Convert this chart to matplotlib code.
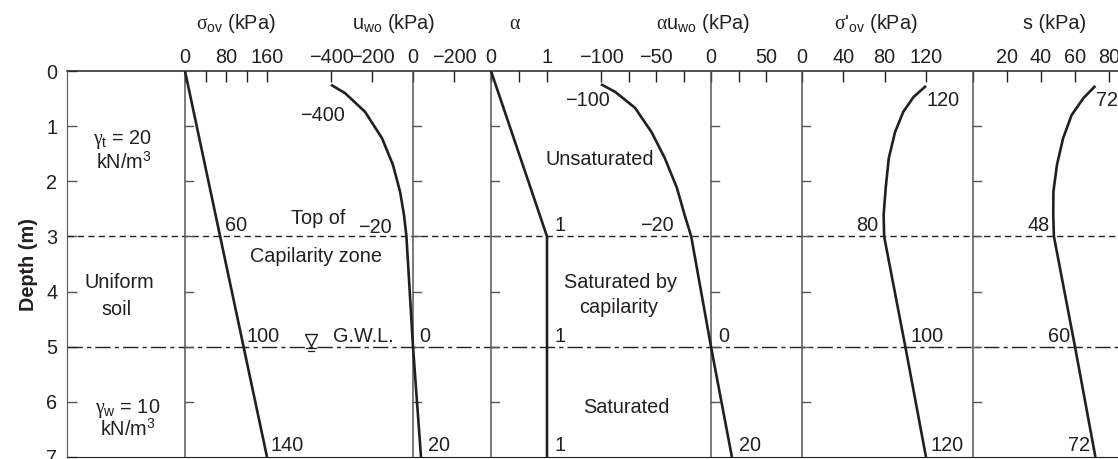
import matplotlib
matplotlib.use("Agg")
import matplotlib.pyplot as plt

# ---------------------------------------------------------------------------
# values (depth in m)
# ---------------------------------------------------------------------------
depth_sigma = [0.0, 7.0]
sigma_ov = [0, 160]

depth_u = [0.25, 0.40, 0.74, 1.22, 1.70, 2.19, 2.61, 3.0, 5.0, 7.0]
u_wo = [-400, -332, -234, -151, -98, -63, -44, -32, 0, 39]

depth_alpha = [0.0, 3.0, 7.0]
alpha = [0, 1, 1]

depth_au = [0.24, 0.38, 0.67, 1.11, 1.58, 2.12, 2.61, 3.0, 5.0, 7.0]
alpha_u = [-100, -87, -69, -54, -42, -31, -24, -18, 0, 19]

depth_eff = [0.27, 0.47, 0.74, 1.11, 1.58, 2.12, 2.61, 3.0, 5.0, 7.0]
sigma_eff = [120, 108, 98, 90, 84, 81, 79, 79.5, 100, 120]

depth_s = [0.27, 0.49, 0.80, 1.22, 1.70, 2.19, 2.61, 3.0, 5.0, 7.0]
suction = [72, 65, 58, 53, 49.4, 47.3, 47.2, 47.6, 60, 72]

depth_ticks = [0, 1, 2, 3, 4, 5, 6, 7]
top_of_capillarity = 3.0
gwl_depth = 5.0

# top tick values / labels per panel (the u_wo "−200" right of 0 is as printed)
sigma_ticks, sigma_labels = [0, 40, 80, 120, 160], ["0", "", "80", "", "160"]
u_ticks, u_labels = [-400, -200, 0, 200], ["\u2212400", "\u2212200", "0", "\u2212200"]
alpha_ticks, alpha_labels = [0, 0.5, 1], ["0", "", "1"]
au_ticks = [-100, -75, -50, -25, 0, 25, 50]
au_labels = ["\u2212100", "", "\u221250", "", "0", "", "50"]
eff_ticks, eff_labels = [0, 40, 80, 120], ["0", "40", "80", "120"]
s_ticks, s_labels = [0, 20, 40, 60, 80], ["", "20", "40", "60", "80"]

# ---------------------------------------------------------------------------
plt.rcParams["font.family"] = ["Liberation Sans", "DejaVu Sans"]
plt.rcParams["mathtext.fontset"] = "custom"
plt.rcParams["mathtext.rm"] = "Liberation Sans"
plt.rcParams["mathtext.it"] = "Liberation Serif"
plt.rcParams["mathtext.bf"] = "Liberation Sans:bold"

W, H = 1118, 459
INK = "#231f20"
GREY = "#555555"
FS = 14.3

fig = plt.figure(figsize=(W / 100, H / 100), dpi=100)
X0, X1, YTOP, YBOT = 67, 1118, 71, 457
ax = fig.add_axes([X0 / W, 1 - YBOT / H, (X1 - X0) / W, (YBOT - YTOP) / H])
ax.set_xlim(X0, X1)
ax.set_ylim(7, 0)
for side in ("top", "right"):
    ax.spines[side].set_visible(False)
ax.spines["left"].set_color(GREY)
ax.spines["bottom"].set_color(INK)
ax.set_xticks([])
ax.set_yticks(depth_ticks)
ax.tick_params(axis="y", direction="in", length=7, width=1, color=GREY,
               pad=7, labelsize=FS, labelcolor=INK)
ax.axhline(0, color=INK, lw=1.1, clip_on=False)
ax.set_ylabel("Depth (m)", fontsize=FS, fontweight="bold", color=INK, labelpad=6)


def panel(anchor_a, anchor_b, ticks, labels):
    """twin axis whose value scale maps onto the pixel anchors (px, value)"""
    (pa, va), (pb, vb) = anchor_a, anchor_b
    k = (vb - va) / (pb - pa)
    tw = ax.twiny()
    tw.set_xlim(va + (X0 - pa) * k, va + (X1 - pa) * k)
    tw.set_ylim(7, 0)
    for sp in tw.spines.values():
        sp.set_visible(False)
    tw.set_xticks(ticks, labels)
    tw.tick_params(axis="x", direction="in", length=8, width=1, color=INK,
                   pad=3, labelsize=FS, labelcolor=INK)
    tw.axvline(0, color=GREY, lw=1.1)
    # small depth ticks along the divider
    for d in depth_ticks[1:-1]:
        tw.plot([0, 8 * k], [d, d], color=GREY, lw=1.0)
    return tw


kw = dict(color=INK, lw=1.9, solid_capstyle="butt", solid_joinstyle="round")
p_sig = panel((185, 0), (267, 160), sigma_ticks, sigma_labels)
p_sig.plot(sigma_ov, depth_sigma, **kw)
p_u = panel((331, -400), (413, 0), u_ticks, u_labels)
p_u.plot(u_wo, depth_u, **kw)
p_a = panel((491, 0), (547, 1), alpha_ticks, alpha_labels)
p_a.plot(alpha, depth_alpha, **kw)
p_au = panel((601, -100), (711, 0), au_ticks, au_labels)
p_au.plot(alpha_u, depth_au, **kw)
p_eff = panel((802, 0), (926, 120), eff_ticks, eff_labels)
p_eff.plot(sigma_eff, depth_eff, **kw)
p_s = panel((1007, 20), (1109, 80), s_ticks, s_labels)
p_s.plot(suction, depth_s, **kw)

# top of capillary zone and ground water level
ax.axhline(top_of_capillarity, color=INK, lw=1.0, ls=(0, (4.5, 3)))
ax.axhline(gwl_depth, color=INK, lw=1.0, ls=(0, (11, 3, 3, 3)))
ax.plot([311], [gwl_depth - 0.13], marker="v", ms=8, mfc="white", mec=INK, mew=1.0)
ax.plot([306, 316], [gwl_depth + 0.03] * 2, color=INK, lw=0.9)
ax.plot([308, 314], [gwl_depth + 0.08] * 2, color=INK, lw=0.9)

# headers
ty = -0.86
for x, s in [(236, r"$\sigma_{\rm ov}$ (kPa)"), (394, r"${\rm u}_{\rm wo}$ (kPa)"),
             (515, r"$\alpha$"), (703, r"$\alpha{\rm u}_{\rm wo}$ (kPa)"),
             (876, r"$\sigma$'$_{\rm ov}$ (kPa)"), (1055, "s (kPa)")]:
    ax.text(x, ty, s, ha="center", va="center", fontsize=FS, color=INK, clip_on=False)

# value annotations (left-aligned unless noted)
notes_left = [(225, 2.81, "60"), (247, 4.81, "100"), (270, 6.80, "140"),
              (300, 0.80, "\u2212400"), (358, 2.83, "\u221220"), (419, 4.81, "0"),
              (428, 6.80, "20"),
              (555, 2.81, "1"), (555, 4.81, "1"), (555, 6.80, "1"),
              (565, 0.53, "\u2212100"), (640, 2.81, "\u221220"), (718, 4.81, "0"),
              (739, 6.80, "20"),
              (927, 0.53, "120"), (910, 4.81, "100"), (930, 6.80, "120"),
              (1096, 0.53, "72"), (333, 4.81, "G.W.L.")]
for x, d, s in notes_left:
    ax.text(x, d, s, ha="left", va="center", fontsize=FS, color=INK)
notes_right = [(878, 2.81, "80"), (1050, 2.81, "48"), (1070, 4.81, "60"),
               (1090, 6.80, "72")]
for x, d, s in notes_right:
    ax.text(x, d, s, ha="right", va="center", fontsize=FS, color=INK)
notes_center = [(318, 2.67, "Top of"), (316, 3.37, "Capilarity zone"),
                (600, 1.61, "Unsaturated"), (621, 3.83, "Saturated by"),
                (619, 4.28, "capilarity"), (626, 6.11, "Saturated"),
                (123, 1.24, r"$\gamma_{\rm t}$ = 20"), (124, 1.66, r"kN/m$^3$"),
                (119, 3.84, "Uniform"), (116, 4.33, "soil"),
                (128, 6.12, r"$\gamma_{\rm w}$ = 10"), (128, 6.49, r"kN/m$^3$")]
for x, d, s in notes_center:
    ax.text(x, d, s, ha="center", va="center", fontsize=FS, color=INK)

fig.savefig("out.png", dpi=100)
